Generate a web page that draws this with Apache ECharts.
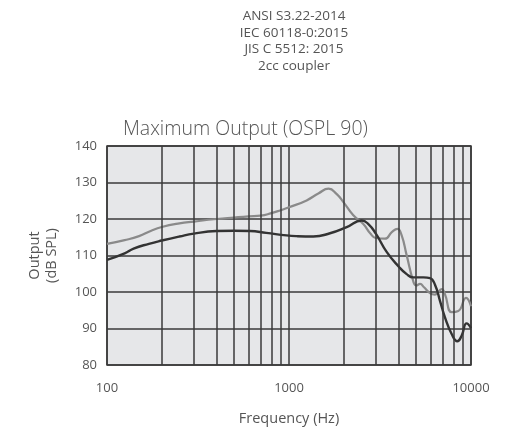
<!DOCTYPE html>
<html>
<head>
<meta charset="utf-8">
<script src="https://cdn.jsdelivr.net/npm/echarts@6/dist/echarts.min.js"></script>
<style>html,body{margin:0;padding:0;background:#fff}#c{width:518px;height:431px}</style>
</head>
<body>
<div id="c"></div>
<script>
const headerLines = ['ANSI S3.22-2014', 'IEC 60118-0:2015', 'JIS C 5512: 2015', '2cc coupler'];
const chartTitle = 'Maximum Output (OSPL 90)';
const xName = 'Frequency (Hz)';
const yName = 'Output\n(dB SPL)';
const yTicks = [80, 90, 100, 110, 120, 130, 140];
const gridFreqs = [200, 300, 400, 500, 600, 700, 800, 900, 2000, 3000, 4000, 5000, 6000, 7000, 8000, 9000];

const lightFreq = [100,125,150,175,200,250,300,400,500,600,700,800,900,1000,1250,1450,1650,1830,2000,2250,2560,2800,3000,3370,3670,3940,4160,4430,4820,5000,5250,5520,5950,6340,6900,7200,7830,8520,9390,10000];
const lightVal  = [113.2,114.2,115.3,116.8,117.8,118.8,119.3,120.0,120.4,120.7,120.9,121.6,122.4,123.2,125.1,127.0,128.3,126.8,124.5,121.1,118.6,116.0,114.8,114.6,116.4,117.3,115.5,110.1,102.9,101.8,102.2,101.3,99.7,99.3,100.8,99.3,94.5,94.8,98.4,96.1];

const darkFreq = [100,125,140,170,200,250,300,400,500,610,750,970,1100,1360,1680,2075,2510,2730,3000,3440,4000,4430,4820,5480,5950,6340,6760,7200,7830,8410,8880,9460,10000];
const darkVal  = [108.8,110.6,111.9,113.2,114.1,115.2,116.0,116.7,116.8,116.7,116.2,115.5,115.3,115.2,116.1,117.8,119.6,118.6,116.0,111.0,107.0,104.9,104.0,104.0,103.8,102.0,97.5,93.0,88.5,86.5,88.0,91.4,90.1];

const txt = '#555';
const gridLine = '#3a3a3a';
const chart = echarts.init(document.getElementById('c'));
chart.setOption({
  animation: false,
  backgroundColor: '#fff',
  title: [
    { text: headerLines.join('\n'), left: 289, top: 3, textAlign: 'center',
      textStyle: { fontFamily: 'Open Sans', fontSize: 13.5, fontWeight: 'normal', color: txt, lineHeight: 16.5, align: 'center' } },
    { text: chartTitle, left: 118, top: 114,
      textStyle: { fontFamily: 'Open Sans', fontSize: 19.5, fontWeight: 300, color: txt } }
  ],
  grid: { left: 107, right: 47, top: 146, bottom: 63, show: true, backgroundColor: '#e6e7e9', borderColor: gridLine, borderWidth: 1.5 },
  xAxis: {
    type: 'log', logBase: 10, min: 100, max: 10000,
    name: xName, nameLocation: 'middle', nameGap: 46,
    nameTextStyle: { fontFamily: 'Open Sans', fontSize: 14.5, color: txt },
    axisLine: { show: false }, axisTick: { show: false },
    axisLabel: { fontFamily: 'Open Sans', fontSize: 13, color: txt, margin: 17, formatter: v => String(Math.round(v)) },
    splitLine: { show: true, lineStyle: { color: gridLine, width: 1.5 } },
    minorTick: { show: false }, minorSplitLine: { show: false }
  },
  yAxis: {
    type: 'value', min: yTicks[0], max: yTicks[yTicks.length - 1], interval: 10,
    name: yName, nameLocation: 'middle', nameGap: 47, nameRotate: 90,
    nameTextStyle: { fontFamily: 'Open Sans', fontSize: 14.5, color: txt, lineHeight: 16.5 },
    axisLine: { show: false }, axisTick: { show: false },
    axisLabel: { fontFamily: 'Open Sans', fontSize: 13, color: txt, margin: 10 },
    splitLine: { show: true, lineStyle: { color: gridLine, width: 1.5 } }
  },
  series: [
    { type: 'line', data: gridFreqs.map(f => [f, null]), silent: true, showSymbol: false,
      lineStyle: { width: 0 },
      markLine: { silent: true, symbol: 'none', label: { show: false },
        lineStyle: { color: gridLine, width: 1.5, type: 'solid' },
        data: gridFreqs.map(f => ({ xAxis: f })) } },
    { type: 'line', data: lightFreq.map((f, i) => [f, lightVal[i]]), smooth: 0.5, showSymbol: false,
      lineStyle: { color: '#8a8a8a', width: 2.2 } },
    { type: 'line', data: darkFreq.map((f, i) => [f, darkVal[i]]), smooth: 0.5, showSymbol: false,
      lineStyle: { color: '#333333', width: 2.4 } }
  ]
});
</script>
</body>
</html>
